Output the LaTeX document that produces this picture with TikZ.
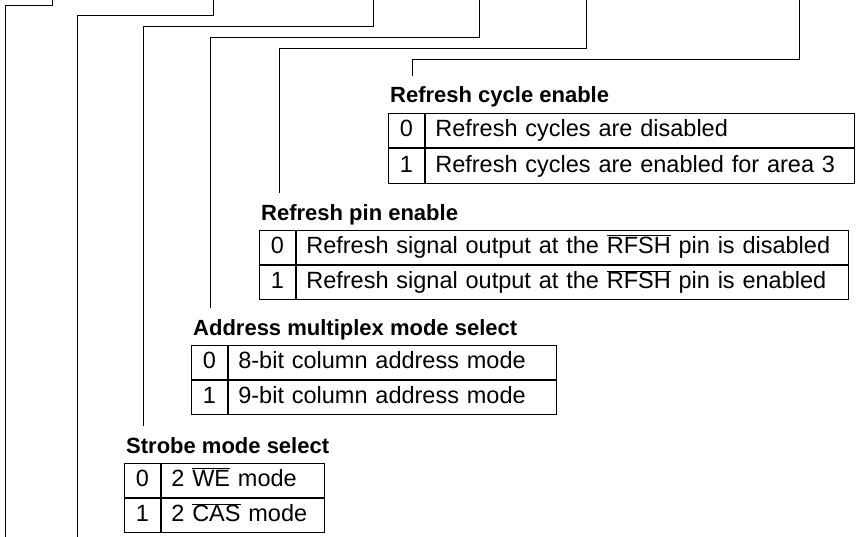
\documentclass[tikz,border=0pt]{standalone}
\usepackage{fontspec}
\setmainfont{Liberation Sans}
\usetikzlibrary{positioning}
\newcommand{\ovl}[1]{$\overline{\mbox{#1}}$}

\begin{document}
\begin{tikzpicture}[
    x=1pt,y=-1pt,
    node distance=0pt,
    wire/.style={line width=0.9pt},
    lead/.style={wire,shorten >=11pt},
    title/.style={anchor=base west,inner sep=0pt,
                  font=\fontsize{22}{26}\selectfont\bfseries},
    bit/.style={rectangle,draw,line width=0.9pt,minimum width=36pt,
                minimum height=34.5pt,inner sep=0pt,text height=17pt,text depth=5pt,
                font=\fontsize{23.5}{28}\selectfont},
    desc/.style={rectangle,draw,line width=0.9pt,minimum height=34.5pt,
                 inner xsep=10pt,inner ysep=0pt,text height=17pt,text depth=5pt,
                 text width=#1,align=left,font=\fontsize{23.5}{28}\selectfont}
  ]
    \useasboundingbox (0,0) rectangle (858,537);

    % refresh cycle enable
    \node[title] (t1) at (390,103) {Refresh cycle enable};
    \node[bit,anchor=north west] (b10) at (388,113) {0};
    \node[desc=409pt,right=of b10] (d10) {Refresh cycles are disabled};
    \node[bit,below=of b10] (b11) {1};
    \node[desc=409pt,right=of b11] (d11) {Refresh cycles are enabled for area 3};

    % refresh pin enable
    \node[title] (t2) at (261,220) {Refresh pin enable};
    \node[bit,anchor=north west] (b20) at (259,229.5) {0};
    \node[desc=532pt,right=of b20] (d20) {Refresh signal output at the \ovl{RFSH} pin is disabled};
    \node[bit,below=of b20] (b21) {1};
    \node[desc=532pt,right=of b21] (d21) {Refresh signal output at the \ovl{RFSH} pin is enabled};

    % address multiplex mode select
    \node[title] (t3) at (193,335) {Address multiplex mode select};
    \node[bit,anchor=north west] (b30) at (191,344.5) {0};
    \node[desc=308pt,right=of b30] (d30) {8-bit column address mode};
    \node[bit,below=of b30] (b31) {1};
    \node[desc=308pt,right=of b31] (d31) {9-bit column address mode};

    % strobe mode select
    \node[title] (t4) at (126,453) {Strobe mode select};
    \node[bit,anchor=north west] (b40) at (124,462.5) {0};
    \node[desc=143pt,right=of b40] (d40) {2 \ovl{WE} mode};
    \node[bit,below=of b40] (b41) {1};
    \node[desc=143pt,right=of b41] (d41) {2 \ovl{CAS} mode};

    % bit leads
    \coordinate (s1) at (52,0);  \coordinate (c1) at (5,5);   \coordinate (e1) at (5,537);
    \coordinate (s2) at (213,0); \coordinate (c2) at (77,15); \coordinate (e2) at (77,537);
    \coordinate (s3) at (373,0); \coordinate (c3) at (143,26);
    \coordinate (s4) at (479,0); \coordinate (c4) at (210,37);
    \coordinate (s5) at (586,0); \coordinate (c5) at (279,48);
    \coordinate (s6) at (799,0); \coordinate (c6) at (412,59);
    \draw[wire] (s1) |- (c1) -- (e1);
    \draw[wire] (s2) |- (c2) -- (e2);
    \draw[lead] (s3) |- (c3) -- (c3 |- t4.north);
    \draw[lead] (s4) |- (c4) -- (c4 |- t3.north);
    \draw[lead] (s5) |- (c5) -- (c5 |- t2.north);
    \draw[lead] (s6) |- (c6) -- (c6 |- t1.north);
\end{tikzpicture}
\end{document}
